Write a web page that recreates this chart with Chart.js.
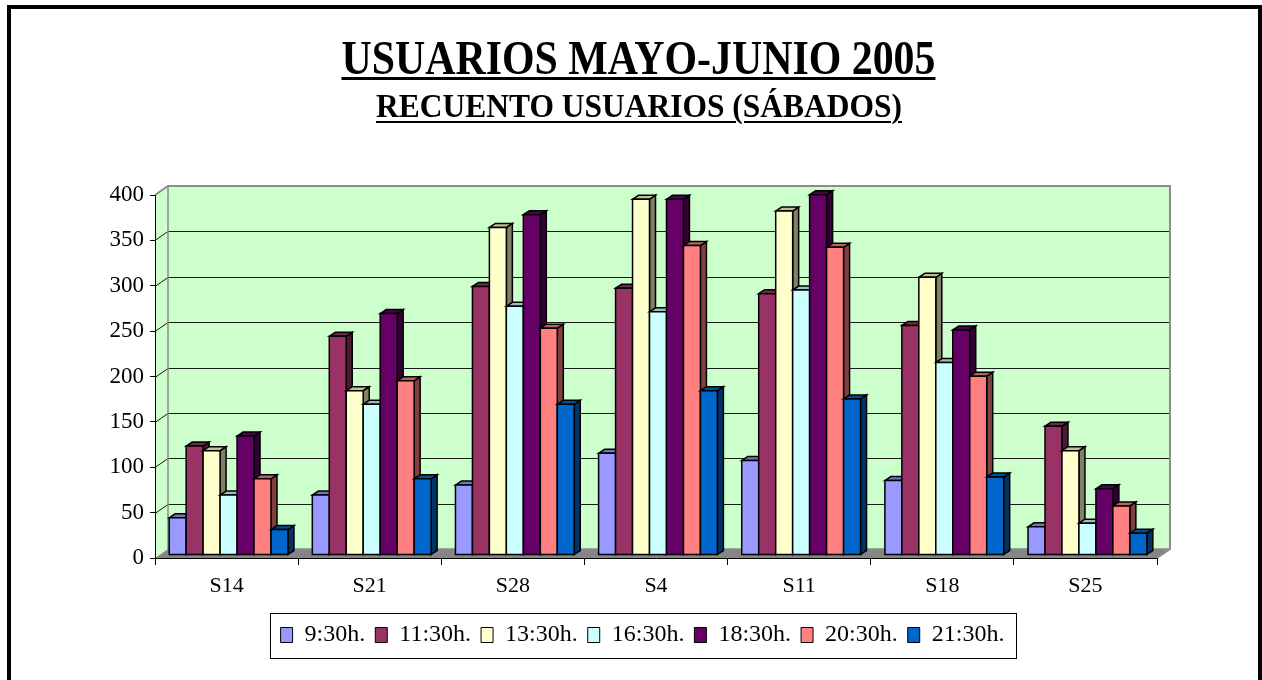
<!DOCTYPE html>
<html><head><meta charset="utf-8">
<script src="https://cdn.jsdelivr.net/npm/chart.js@4.4.1/dist/chart.umd.min.js"></script>
<style>
html,body{margin:0;padding:0;background:#fff;overflow:hidden;width:1262px;height:680px;}
#frame{position:absolute;left:7px;top:5px;width:1255px;height:700px;border:4px solid #000;box-sizing:border-box;pointer-events:none;}
#c{position:absolute;left:0;top:0;}
.ttl{position:absolute;white-space:nowrap;font-family:"Liberation Serif","Times New Roman",serif;font-weight:bold;color:#000;text-decoration:underline;transform-origin:center center;}
#t1{font-size:48px;line-height:48px;top:34px;text-decoration-thickness:3px;text-underline-offset:3px;}
#t2{font-size:34px;line-height:34px;top:89px;text-decoration-thickness:2px;text-underline-offset:4px;}
</style></head><body>
<canvas id="c" width="1262" height="680"></canvas>
<div id="t1" class="ttl">USUARIOS MAYO-JUNIO 2005</div>
<div id="t2" class="ttl">RECUENTO USUARIOS (SÁBADOS)</div>
<div id="frame"></div>
<script>
const categories = ['S14','S21','S28','S4','S11','S18','S25'];
const seriesNames = ['9:30h.','11:30h.','13:30h.','16:30h.','18:30h.','20:30h.','21:30h.'];
const s0930 = [41, 66, 77, 112, 104, 82, 31];
const s1130 = [120, 241, 296, 294, 288, 253, 142];
const s1330 = [115, 181, 361, 392, 379, 306, 115];
const s1630 = [66, 166, 274, 268, 292, 212, 35];
const s1830 = [131, 266, 375, 392, 397, 248, 73];
const s2030 = [84, 192, 250, 341, 339, 197, 54];
const s2130 = [28, 84, 166, 181, 172, 86, 24];
const yTicks = [0, 50, 100, 150, 200, 250, 300, 350, 400];

const frontColors = ['#9999FF','#993366','#FFFFCC','#CCFFFF','#660066','#FF8080','#0066CC'];
const sideColors  = ['#4D4D80','#4D1A33','#808066','#668080','#330033','#804040','#003366'];
const topColors   = ['#7373BF','#73264D','#BFBF99','#99BFBF','#4D004D','#BF6060','#004D99'];

function fitTitle(id, cx, w){
  const el = document.getElementById(id);
  const nat = el.offsetWidth;
  el.style.left = (cx - nat/2) + 'px';
  el.style.transform = 'scaleX(' + (w/nat) + ')';
}
fitTitle('t1', 638, 594);
fitTitle('t2', 639, 526);

const seriesValues = [s0930, s1130, s1330, s1630, s1830, s2030, s2130];
const datasets = seriesValues.map((v, i) => ({
  label: seriesNames[i], data: v,
  backgroundColor: frontColors[i], borderColor: '#000', borderWidth: 1,
  categoryPercentage: 0.83, barPercentage: 1.0
}));

const WDX = 13, WDY = -9;   // wall depth
const BDX = 2, BDY = -3;    // bar plane offset
const FDX = 6, FDY = -4;    // bar depth
const LEGEND_SHIFT = 64;

function poly(ctx, pts, fill, stroke, lw){
  ctx.beginPath();
  ctx.moveTo(pts[0][0], pts[0][1]);
  for (let k = 1; k < pts.length; k++) ctx.lineTo(pts[k][0], pts[k][1]);
  ctx.closePath();
  if (fill){ ctx.fillStyle = fill; ctx.fill(); }
  if (stroke){ ctx.strokeStyle = stroke; ctx.lineWidth = lw; ctx.stroke(); }
}

const threeD = {
  id: 'threeD',
  afterLayout(chart){
    const lg = chart.legend;
    if (lg){ lg.left += LEGEND_SHIFT; lg.right += LEGEND_SHIFT; }
  },
  beforeDraw(chart){
    const ctx = chart.ctx, ca = chart.chartArea, y = chart.scales.y;
    const L = ca.left, R = ca.right;
    const T = y.getPixelForValue(yTicks[yTicks.length-1]), B = y.getPixelForValue(0);
    ctx.save();
    ctx.fillStyle = '#CCFFCC';
    ctx.fillRect(L + WDX, T + WDY, R - L, B - T);
    poly(ctx, [[L,T],[L+WDX,T+WDY],[L+WDX,B+WDY],[L,B]], '#CCFFCC');
    poly(ctx, [[L,B],[L+WDX,B+WDY],[R+WDX,B+WDY],[R,B]], '#858585');
    ctx.strokeStyle = '#1a1a1a'; ctx.lineWidth = 1;
    for (const v of yTicks){
      if (v === 0 || v === yTicks[yTicks.length-1]) continue;
      const py = Math.round(y.getPixelForValue(v)) + 0.5;
      ctx.beginPath();
      ctx.moveTo(L, py); ctx.lineTo(L + WDX, py + WDY); ctx.lineTo(R + WDX, py + WDY);
      ctx.stroke();
    }
    ctx.strokeStyle = '#8c8c8c'; ctx.lineWidth = 2;
    ctx.beginPath();
    ctx.moveTo(L, T); ctx.lineTo(L + WDX, T + WDY); ctx.lineTo(R + WDX, T + WDY);
    ctx.lineTo(R + WDX, B + WDY); ctx.lineTo(R, B);
    ctx.stroke();
    ctx.lineWidth = 1.5;
    ctx.beginPath();
    ctx.moveTo(L + WDX, T + WDY); ctx.lineTo(L + WDX, B + WDY); ctx.lineTo(R + WDX, B + WDY);
    ctx.stroke();
    ctx.restore();
  },
  beforeDatasetDraw(){ return false; },
  afterDatasetsDraw(chart){
    const ctx = chart.ctx, n = chart.data.datasets.length;
    ctx.save();
    ctx.lineJoin = 'miter';
    for (let i = 0; i < categories.length; i++){
      for (let d = 0; d < n; d++){
        const el = chart.getDatasetMeta(d).data[i];
        const p = el.getProps(['x','y','base','width'], true);
        const l = p.x - p.width/2 + BDX, r = p.x + p.width/2 + BDX;
        const t = p.y + BDY, b = p.base + BDY;
        poly(ctx, [[r,b],[r+FDX,b+FDY],[r+FDX,t+FDY],[r,t]], sideColors[d], '#000', 1.5);
        poly(ctx, [[l,t],[l+FDX,t+FDY],[r+FDX,t+FDY],[r,t]], topColors[d], '#000', 1.5);
        poly(ctx, [[l,t],[r,t],[r,b],[l,b]], frontColors[d], '#000', 1.5);
      }
    }
    ctx.restore();
  },
  afterDraw(chart){
    const lg = chart.legend;
    if (!lg || !lg.legendHitBoxes || !lg.legendHitBoxes.length) return;
    const hb = lg.legendHitBoxes;
    let minL = Infinity, maxR = -Infinity, minT = Infinity, maxB = -Infinity;
    hb.forEach(h => { minL = Math.min(minL, h.left); maxR = Math.max(maxR, h.left + h.width);
      minT = Math.min(minT, h.top); maxB = Math.max(maxB, h.top + h.height); });
    const ctx = chart.ctx;
    ctx.save();
    ctx.strokeStyle = '#000'; ctx.lineWidth = 1;
    ctx.strokeRect(Math.round(minL - 11) + 0.5, Math.round(minT - 10) + 0.5,
                   Math.round(maxR - minL + 22), Math.round(maxB - minT + 21));
    ctx.restore();
  }
};

const FONT = "'Liberation Serif', 'Times New Roman', serif";

new Chart(document.getElementById('c'), {
  type: 'bar',
  data: { labels: categories, datasets: datasets },
  options: {
    responsive: false, animation: false, devicePixelRatio: 1,
    layout: { padding: { left: 0, right: 105, top: 195, bottom: 23 } },
    plugins: {
      title: { display: false },
      tooltip: { enabled: false },
      legend: {
        position: 'bottom',
        labels: { boxWidth: 12, boxHeight: 15, padding: 10, color: '#000',
                  font: { family: FONT, size: 24 } }
      }
    },
    scales: {
      x: {
        grid: { display: true, drawOnChartArea: false, drawTicks: true, tickLength: 7, color: '#000', offset: true },
        border: { display: true, color: '#000', width: 1 },
        ticks: { color: '#000', padding: 8, maxRotation: 0, font: { family: FONT, size: 22 } },
        afterFit: s => { s.height = 55; }
      },
      y: {
        min: 0, max: 400,
        afterBuildTicks: s => { s.ticks = yTicks.map(v => ({ value: v })); },
        grid: { display: true, drawOnChartArea: false, drawTicks: true, tickLength: 5, color: '#000' },
        border: { display: true, color: '#000', width: 1 },
        ticks: { color: '#000', padding: 6, font: { family: FONT, size: 23 } },
        afterFit: s => { s.width = 155; }
      }
    }
  },
  plugins: [threeD]
});
</script>
</body></html>
